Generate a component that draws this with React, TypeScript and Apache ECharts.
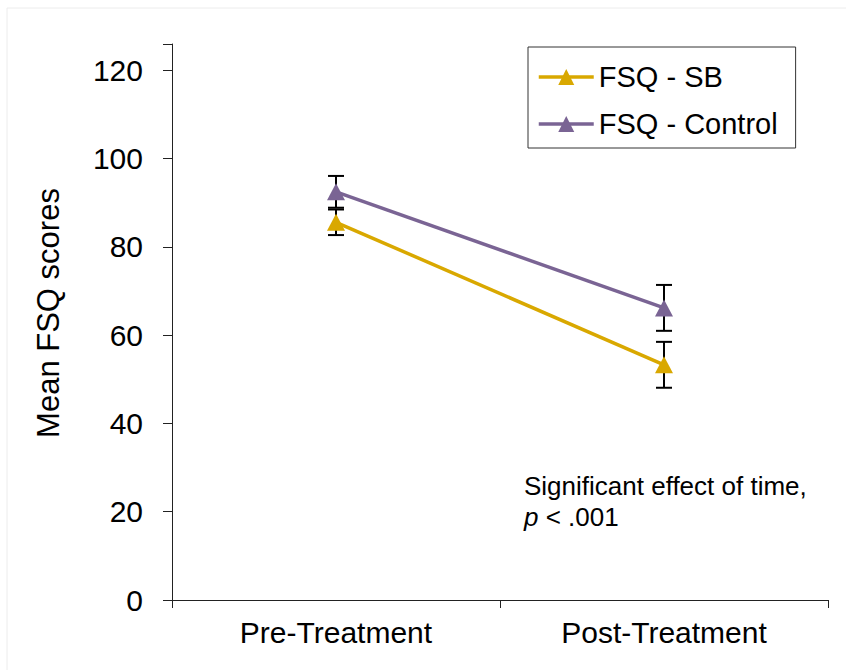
import React, { useEffect, useRef } from "react";
import * as echarts from "echarts";

const categories = ["Pre-Treatment", "Post-Treatment"];
const sbMeans = [85.6, 53.3];
const sbErr = [2.9, 5.2];
const controlMeans = [92.5, 66.2];
const controlErr = [3.6, 5.2];
const yTicks = { min: 0, max: 126, interval: 20 };
const seriesNames = ["FSQ - SB", "FSQ - Control"];

const GOLD = "#D9A800";
const PURPLE = "#7A6494";
const FONT = "Liberation Sans, Arial, sans-serif";

export default function App() {
  const ref = useRef<HTMLDivElement>(null);
  useEffect(() => {
    if (!ref.current) return;
    const chart = echarts.init(ref.current, undefined, { renderer: "svg" });
    const errData: number[][] = [];
    categories.forEach((_, i) => {
      errData.push([i, sbMeans[i] - sbErr[i], sbMeans[i] + sbErr[i]]);
      errData.push([i, controlMeans[i] - controlErr[i], controlMeans[i] + controlErr[i]]);
    });
    chart.setOption({
      animation: false,
      backgroundColor: "#fff",
      textStyle: { fontFamily: FONT },
      grid: { left: 172, right: 18, top: 44, bottom: 70 },
      legend: {
        orient: "vertical",
        left: 528,
        top: 47,
        padding: [15, 18, 9, 9],
        itemGap: 17,
        itemWidth: 55,
        itemHeight: 20,
        borderColor: "#333",
        borderWidth: 1,
        borderRadius: 0,
        lineStyle: { width: 3.5 },
        textStyle: { fontSize: 29, color: "#000", fontFamily: FONT, lineHeight: 30 },
        data: seriesNames,
      },
      xAxis: {
        type: "category",
        data: categories,
        boundaryGap: true,
        axisLine: { lineStyle: { color: "#222", width: 1 } },
        axisTick: { show: true, length: 8, lineStyle: { color: "#222" } },
        axisLabel: { fontSize: 30, color: "#000", margin: 17, fontFamily: FONT },
      },
      yAxis: {
        type: "value",
        min: yTicks.min,
        max: yTicks.max,
        interval: yTicks.interval,
        axisLine: { show: true, lineStyle: { color: "#222", width: 1 } },
        axisTick: { show: true, length: 9, lineStyle: { color: "#222" } },
        splitLine: { show: false },
        axisLabel: {
          fontSize: 30,
          color: "#000",
          margin: 29,
          fontFamily: FONT,
          formatter: (v: number) => (v % 20 === 0 ? String(v) : ""),
        },
      },
      graphic: [
        {
          type: "line",
          shape: { x1: 7, y1: 8, x2: 846, y2: 8 },
          style: { stroke: "#ececec", lineWidth: 1 },
        },
        {
          type: "line",
          shape: { x1: 7, y1: 8, x2: 7, y2: 670 },
          style: { stroke: "#ececec", lineWidth: 1 },
        },
        {
          type: "text",
          x: 48,
          y: 313,
          rotation: Math.PI / 2,
          style: {
            text: "Mean FSQ scores",
            fontSize: 31,
            fontFamily: FONT,
            fill: "#000",
            align: "center",
            verticalAlign: "middle",
          },
        },
        {
          type: "text",
          left: 524,
          top: 473,
          style: {
            text: "{n|Significant effect of time,}\n{i|p}{n| < .001}",
            fontFamily: FONT,
            rich: {
              n: { fontSize: 26, fontFamily: FONT, fill: "#000", lineHeight: 31 },
              i: { fontSize: 26, fontFamily: FONT, fill: "#000", fontStyle: "italic", lineHeight: 31 },
            },
          },
        },
      ],
      series: [
        {
          name: "errors",
          type: "custom",
          z: 1,
          data: errData,
          renderItem: (params: any, api: any) => {
            const x = api.value(0);
            const top = api.coord([x, api.value(2)]);
            const bot = api.coord([x, api.value(1)]);
            const w = 8;
            const st = { stroke: "#000", lineWidth: 2 };
            return {
              type: "group",
              children: [
                { type: "line", shape: { x1: top[0], y1: top[1], x2: bot[0], y2: bot[1] }, style: st },
                { type: "line", shape: { x1: top[0] - w, y1: top[1], x2: top[0] + w, y2: top[1] }, style: st },
                { type: "line", shape: { x1: bot[0] - w, y1: bot[1], x2: bot[0] + w, y2: bot[1] }, style: st },
              ],
            };
          },
        },
        {
          name: seriesNames[0],
          type: "line",
          z: 3,
          data: sbMeans,
          symbol: "triangle",
          symbolSize: [18, 17],
          lineStyle: { color: GOLD, width: 3.5 },
          itemStyle: { color: GOLD },
        },
        {
          name: seriesNames[1],
          type: "line",
          z: 3,
          data: controlMeans,
          symbol: "triangle",
          symbolSize: [18, 17],
          lineStyle: { color: PURPLE, width: 3.5 },
          itemStyle: { color: PURPLE },
        },
      ],
    });
    return () => chart.dispose();
  }, []);
  return (
    <div
      ref={ref}
      style={{ position: "fixed", left: 0, top: 0, width: 846, height: 670 }}
    />
  );
}
